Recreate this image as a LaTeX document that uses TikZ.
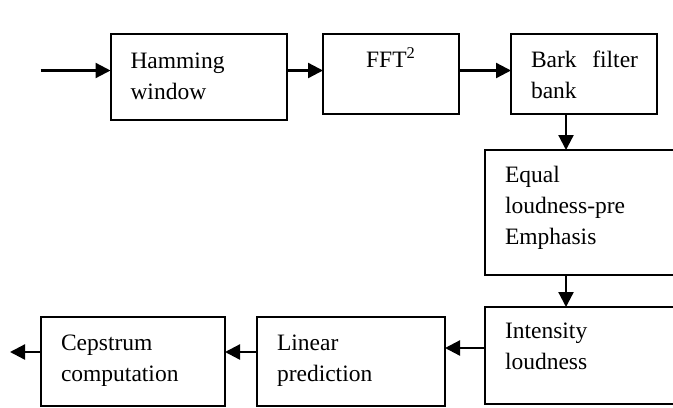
\documentclass[tikz,border=0pt]{standalone}
\usepackage{fontspec}
\setmainfont{Liberation Serif}
\usetikzlibrary{arrows.meta}

\begin{document}
\begin{tikzpicture} [x=0.5pt, y=-0.5pt,
    >={Triangle[length=7.5pt, width=7.5pt]},
    line width=1.15pt,
    block/.style={draw, line width=1pt, anchor=north west, align=left,
      inner xsep=10pt, inner ysep=0pt, outer sep=0pt,
      font=\fontsize{11.75}{15.5}\selectfont}]
  \clip (0,0) rectangle (673,407);

  \node[block, text width=68pt, text height=17pt, text depth=26pt]
    (ham) at (110.5,34) {Hamming\\window};
  \node[block, align=center, text width=48pt, text height=16.5pt, text depth=23.5pt]
    (fft) at (323,34) {FFT\textsuperscript{2}};
  \node[block, text width=53pt, text height=16.5pt, text depth=23.5pt]
    (bark) at (511,34) {\mbox{Bark\ \ filter}\\bank};
  \node[block, text width=80pt, text height=16pt, text depth=46.5pt]
    (equal) at (485,150) {Equal\\loudness-pre\\Emphasis};
  \node[block, text width=80pt, text height=15.5pt, text depth=33pt]
    (inten) at (485,307) {Intensity\\loudness};
  \node[block, text width=74pt, text height=16.5pt, text depth=28pt]
    (lin) at (257,317) {Linear\\prediction};
  \node[block, text width=72pt, text height=16.5pt, text depth=28pt]
    (ceps) at (41,317) {Cepstrum\\computation};

  \coordinate (in) at (40.5,70.5);
  \coordinate (drop) at (566,0);
  \coordinate (back) at (0,348);
  \coordinate (out) at (10,352);

  \draw[->] (in) -- (ham.west |- in);
  \draw[->] (ham.east |- in) -- (fft.west |- in);
  \draw[->] (fft.east |- in) -- (bark.west |- in);
  \draw[->] (bark.south -| drop) -- (equal.north -| drop);
  \draw[->] (equal.south -| drop) -- (inten.north -| drop);
  \draw[->] (inten.west |- back) -- (lin.east |- back);
  \draw[->] (lin.west |- out) -- (ceps.east |- out);
  \draw[->] (ceps.west |- out) -- (out);
\end{tikzpicture}
\end{document}
